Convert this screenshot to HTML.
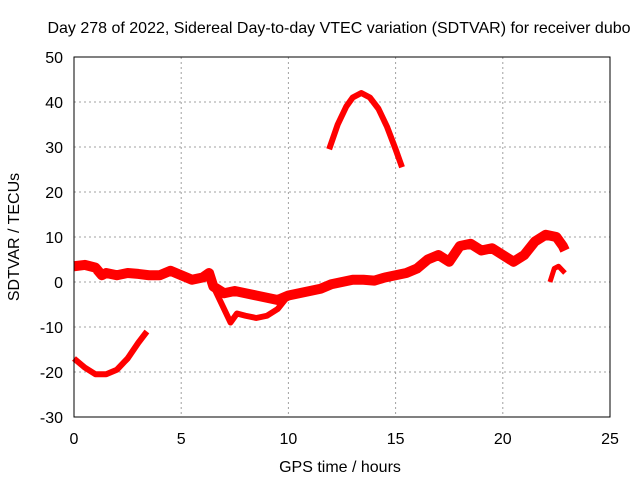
<!DOCTYPE html>
<html><head><meta charset="utf-8"><style>
body{margin:0;background:#fff}
svg text{font-family:"Liberation Sans",sans-serif;font-size:16px;fill:#000}
</style></head><body>
<svg id="c" width="640" height="480">
<text x="339" y="33" text-anchor="middle">Day 278 of 2022, Sidereal Day-to-day VTEC variation (SDTVAR) for receiver dubo</text>
<text x="340" y="472" text-anchor="middle">GPS time / hours</text>
<text transform="translate(19,237) rotate(-90)" text-anchor="middle">SDTVAR / TECUs</text>
<g id="grid"></g><g id="series"></g>
<rect x="74" y="57" width="536" height="360" fill="none" stroke="#000" stroke-width="1"/>
</svg>
<script>
const xTicks=[0,5,10,15,20,25];
const yTicks=[-30,-20,-10,0,10,20,30,40,50];
const mainX=[0,0.5,1,1.3,1.5,2,2.5,3,3.5,4,4.5,5,5.5,6,6.3,6.5,7,7.5,8,8.5,9,9.5,10,10.5,11,11.5,12,12.5,13,13.5,14,14.5,15,15.5,16,16.5,17,17.5,18,18.5,19,19.5,20,20.5,21,21.5,22,22.5,22.8,22.9];
const mainY=[3.5,3.8,3.2,1.5,2,1.5,2,1.8,1.5,1.5,2.5,1.5,0.5,1,2,-1,-2.5,-2,-2.5,-3,-3.5,-4,-3,-2.5,-2,-1.5,-0.5,0,0.5,0.5,0.3,1,1.5,2,3,5,6,4.5,8,8.5,7,7.5,6,4.5,6,9,10.5,10,8,7];
const lowX=[6.5,7,7.3,7.6,8,8.5,9,9.5,10];
const lowY=[-1,-6,-9,-7,-7.5,-8,-7.5,-6,-3];
const botX=[0,0.5,1,1.5,2,2.5,3,3.4];
const botY=[-17,-19,-20.5,-20.5,-19.5,-17,-13.5,-11];
const archX=[11.9,12.3,12.7,13,13.4,13.8,14.2,14.6,15,15.3];
const archY=[29.5,35,39,41,42,41,38.5,34.5,29.5,25.5];
const smallX=[22.2,22.4,22.6,22.9];
const smallY=[0,3,3.5,2];
const X=v=>74+v*536/25, Y=v=>417-(v+30)*4.5;
const NS='http://www.w3.org/2000/svg';
const g=document.getElementById('grid'), s=document.getElementById('series'), svg=document.getElementById('c');
function mk(t,a,p){const e=document.createElementNS(NS,t);for(const k in a)e.setAttribute(k,a[k]);p.appendChild(e);return e;}
xTicks.forEach(t=>{
 const l=mk('line',{x1:X(t),x2:X(t),y1:57,y2:417,stroke:'#a0a0a0','stroke-dasharray':'2,3'},g);
 
 
 const tx=mk('text',{x:X(t),y:444,'text-anchor':'middle'},svg);tx.textContent=t;
 
 
});
yTicks.forEach(t=>{
 const l=mk('line',{x1:74,x2:610,y1:Y(t),y2:Y(t),stroke:'#a0a0a0','stroke-dasharray':'2,3'},g);
 
 
 const tx=mk('text',{x:63,y:Y(t)+6,'text-anchor':'end'},svg);tx.textContent=t;
 
 
});
function line(xs,ys,w,name){
 const p=mk('polyline',{points:xs.map((x,i)=>X(x)+','+Y(ys[i])).join(' '),fill:'none',stroke:'#ff0000','stroke-width':w,'stroke-linejoin':'round','stroke-linecap':'butt'},s);
 
 
}
line(mainX,mainY,10,'sdtvar-main-band');
line(lowX,lowY,6,'sdtvar-lower-branch');
line(botX,botY,6,'sdtvar-early-dip');
line(archX,archY,6,'sdtvar-arch');
line(smallX,smallY,5,'sdtvar-late-segment');
</script>
</body></html>
